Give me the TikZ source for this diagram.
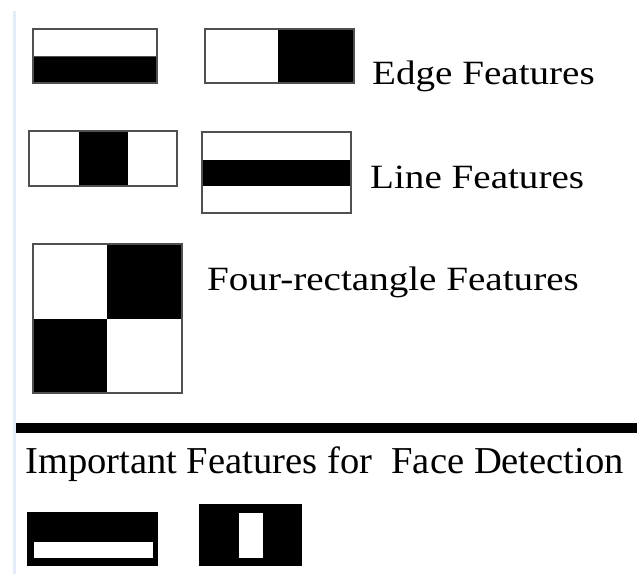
\documentclass[tikz,border=0pt]{standalone}
\usepackage{fontspec}
\setmainfont{Liberation Serif}
\newfontfamily\featfont[FakeStretch=1.15]{Liberation Serif}
\newfontfamily\headfont[FakeStretch=1.015]{Liberation Serif}
\definecolor{edgeblue}{HTML}{E4ECF8}
\definecolor{bordergray}{HTML}{505050}
\begin{document}
\begin{tikzpicture}[x=1pt,y=-1pt,
  frame/.style={draw=bordergray,line width=1.8pt},
  blk/.style={fill=black},
  wht/.style={fill=white},
  feat/.style={anchor=base west,inner sep=0pt,font=\featfont\fontsize{34}{40}\selectfont},
  head/.style={anchor=base west,inner sep=0pt,font=\headfont\fontsize{38}{44}\selectfont}]
\useasboundingbox (0,0) rectangle (644,574);
\fill[white] (0,0) rectangle (644,574);
% faint left rule
\fill[edgeblue] (12.5,11) rectangle (15.5,574);
% Edge features
\fill[blk] (33,56) rectangle (157,83);
\draw[frame] (33,29) rectangle (157,83);
\draw[bordergray,line width=1pt] (33,56) -- (157,56);
\fill[blk] (278,29) rectangle (354,83);
\draw[frame] (205,29) rectangle (354,83);
% Line features
\fill[blk] (79,131) rectangle (128,186);
\draw[frame] (29,131) rectangle (177,186);
\fill[blk] (202,160) rectangle (351,186);
\draw[frame] (202,132) rectangle (351,213);
% Four-rectangle
\fill[blk] (107,244) rectangle (182,319);
\fill[blk] (33,319) rectangle (107,393);
\draw[frame] (33,244) rectangle (182,393);
% labels
\node[feat] (edge) at (372,84) {Edge Features};
\node[feat] (line) at (370,188) {Line Features};
\node[feat] (four) at (207,290) {Four-rectangle Features};
% separator
\fill[black] (16,423) rectangle (637,433);
\node[head] (imp) at (25,473) {Important Features for\ \ Face Detection};
% important features
\fill[black] (27,512) rectangle (158,566);
\fill[white] (34,542) rectangle (153,558);
\fill[black] (199,504) rectangle (302,566);
\fill[white] (239,513) rectangle (263,558);
\end{tikzpicture}
\end{document}
